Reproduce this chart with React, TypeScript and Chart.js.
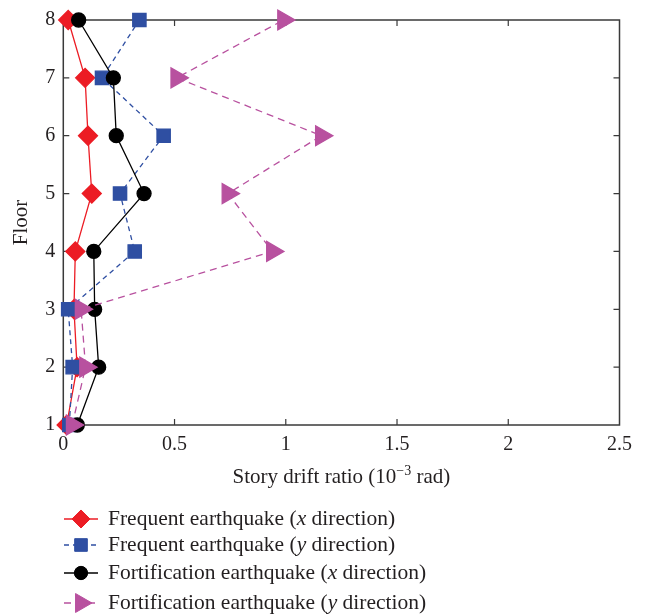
import React, { useEffect, useRef } from "react";
import { Chart, registerables } from "chart.js";
import { drawPoint } from "chart.js/helpers";

Chart.register(...registerables);

const floors = [1, 2, 3, 4, 5, 6, 7, 8];
const frequentX = [0.015, 0.062, 0.048, 0.054, 0.128, 0.111, 0.098, 0.022];
const frequentY = [0.027, 0.042, 0.022, 0.321, 0.255, 0.451, 0.174, 0.342];
const fortificationX = [0.063, 0.159, 0.141, 0.137, 0.363, 0.238, 0.225, 0.069];
const fortificationY = [0.04, 0.1, 0.08, 0.94, 0.74, 1.16, 0.51, 0.99];

const xTickValues = [0, 0.5, 1, 1.5, 2, 2.5];
const yTickValues = [1, 2, 3, 4, 5, 6, 7, 8];

const seriesNames = [
  ["Frequent earthquake (", "x", " direction)"],
  ["Frequent earthquake (", "y", " direction)"],
  ["Fortification earthquake (", "x", " direction)"],
  ["Fortification earthquake (", "y", " direction)"],
];

const FONT = "'Liberation Serif', 'DejaVu Serif', serif";
const TEXT_COLOR = "#231f20";
const FRAME_COLOR = "#3a3a3a";
const TEXT_SIZE = 21;
const LEGEND_SIZE = 21.5;
const TICK_SIZE = 20;

const toPoints = (vals: number[]) => vals.map((v, i) => ({ x: v, y: floors[i] }));

const framePlugin = {
  id: "frame",
  beforeDatasetsDraw(chart: any) {
    const { ctx, chartArea } = chart;
    const { left, right, top, bottom } = chartArea;
    const xs = chart.scales.x;
    const ys = chart.scales.y;
    ctx.save();
    ctx.strokeStyle = FRAME_COLOR;
    ctx.lineWidth = 1.5;
    ctx.strokeRect(left, top, right - left, bottom - top);
    ctx.lineWidth = 1.2;
    const tl = 6;
    ctx.beginPath();
    xTickValues.slice(1, -1).forEach((v) => {
      const px = xs.getPixelForValue(v);
      ctx.moveTo(px, bottom);
      ctx.lineTo(px, bottom - tl);
      ctx.moveTo(px, top);
      ctx.lineTo(px, top + tl);
    });
    yTickValues.slice(1, -1).forEach((v) => {
      const py = ys.getPixelForValue(v);
      ctx.moveTo(left, py);
      ctx.lineTo(left + tl, py);
      ctx.moveTo(right, py);
      ctx.lineTo(right - tl, py);
    });
    ctx.stroke();
    ctx.restore();
  },
  afterDraw(chart: any) {
    const { ctx, chartArea } = chart;
    ctx.save();
    ctx.fillStyle = TEXT_COLOR;
    const size = TEXT_SIZE;
    const parts: [string, string, number][] = [
      ["Story drift ratio (10", `${size}px ${FONT}`, 0],
      ["\u22123", `${Math.round(size * 0.68)}px ${FONT}`, -8],
      [" rad)", `${size}px ${FONT}`, 0],
    ];
    let total = 0;
    parts.forEach(([t, f]) => {
      ctx.font = f;
      total += ctx.measureText(t).width;
    });
    let x = (chartArea.left + chartArea.right) / 2 - total / 2;
    const ty = 483;
    ctx.textBaseline = "alphabetic";
    ctx.textAlign = "left";
    parts.forEach(([t, f, dy]) => {
      ctx.font = f;
      ctx.fillText(t, x, ty + dy);
      x += ctx.measureText(t).width;
    });
    ctx.save();
    ctx.translate(27, (chartArea.top + chartArea.bottom) / 2);
    ctx.rotate(-Math.PI / 2);
    ctx.font = `${size}px ${FONT}`;
    ctx.textAlign = "center";
    ctx.textBaseline = "alphabetic";
    ctx.fillText("Floor", 0, 0);
    ctx.restore();

    const rowY = [519, 545, 573, 603];
    chart.data.datasets.forEach((ds: any, i: number) => {
      const y = rowY[i];
      ctx.save();
      ctx.strokeStyle = ds.borderColor;
      ctx.lineWidth = ds.borderWidth;
      ctx.setLineDash(ds.borderDash || []);
      ctx.beginPath();
      ctx.moveTo(64, y);
      ctx.lineTo(98, y);
      ctx.stroke();
      ctx.setLineDash([]);
      ctx.fillStyle = ds.pointBackgroundColor;
      ctx.strokeStyle = ds.pointBorderColor;
      ctx.lineWidth = 1;
      drawPoint(ctx, { pointStyle: ds.pointStyle, rotation: ds.pointRotation || 0, radius: ds.pointRadius * 0.95, borderWidth: 1 }, 81, y);
      ctx.restore();
      let tx = 108;
      const [a, b, c] = seriesNames[i];
      ctx.fillStyle = TEXT_COLOR;
      ctx.textBaseline = "middle";
      ctx.font = `${LEGEND_SIZE}px ${FONT}`;
      ctx.fillText(a, tx, y);
      tx += ctx.measureText(a).width;
      ctx.font = `italic ${LEGEND_SIZE}px ${FONT}`;
      ctx.fillText(b, tx, y);
      tx += ctx.measureText(b).width;
      ctx.font = `${LEGEND_SIZE}px ${FONT}`;
      ctx.fillText(c, tx, y);
    });
    ctx.restore();
  },
};

export default function App() {
  const ref = useRef<HTMLCanvasElement | null>(null);
  useEffect(() => {
    document.body.style.margin = "0";
    if (!ref.current) return;
    const red = "#ec1c24";
    const blue = "#2f4fa2";
    const black = "#000000";
    const magenta = "#b8519f";
    const chart = new Chart(ref.current, {
      type: "line",
      data: {
        datasets: [
          {
            label: "Frequent earthquake (x direction)",
            data: toPoints(frequentX),
            borderColor: red,
            backgroundColor: red,
            pointBackgroundColor: red,
            pointBorderColor: red,
            borderWidth: 1.3,
            pointStyle: "rectRot",
            pointRadius: 9.5,
            order: 4,
            clip: false,
          },
          {
            label: "Frequent earthquake (y direction)",
            data: toPoints(frequentY),
            borderColor: blue,
            backgroundColor: blue,
            pointBackgroundColor: blue,
            pointBorderColor: blue,
            borderWidth: 1.3,
            borderDash: [5, 4],
            pointStyle: "rect",
            pointRadius: 9.4,
            order: 3,
            clip: false,
          },
          {
            label: "Fortification earthquake (x direction)",
            data: toPoints(fortificationX),
            borderColor: black,
            backgroundColor: black,
            pointBackgroundColor: black,
            pointBorderColor: black,
            borderWidth: 1.3,
            pointStyle: "circle",
            pointRadius: 7,
            order: 2,
            clip: false,
          },
          {
            label: "Fortification earthquake (y direction)",
            data: toPoints(fortificationY),
            borderColor: magenta,
            backgroundColor: magenta,
            pointBackgroundColor: magenta,
            pointBorderColor: magenta,
            borderWidth: 1.3,
            borderDash: [7, 5],
            pointStyle: "triangle",
            pointRotation: 90,
            pointRadius: 11.5,
            order: 1,
            clip: false,
          },
        ] as any,
      },
      options: {
        animation: false,
        responsive: false,
        events: [],
        layout: { padding: { top: 19, right: 27.5, left: 0, bottom: 0 } },
        plugins: { legend: { display: false }, tooltip: { enabled: false } },
        elements: { line: { tension: 0 } },
        scales: {
          x: {
            type: "linear",
            min: 0,
            max: 2.5,
            grid: { display: false, drawTicks: false },
            border: { display: false },
            afterBuildTicks: (s: any) => {
              s.ticks = xTickValues.map((v) => ({ value: v }));
            },
            afterFit: (s: any) => {
              s.height = 190;
            },
            ticks: {
              padding: 8,
              color: TEXT_COLOR,
              font: { family: FONT, size: TICK_SIZE },
              maxRotation: 0,
              callback: (v: any) => String(Number(v)),
            },
          },
          y: {
            type: "linear",
            min: 1,
            max: 8,
            grid: { display: false, drawTicks: false },
            border: { display: false },
            afterBuildTicks: (s: any) => {
              s.ticks = yTickValues.map((v) => ({ value: v }));
            },
            afterFit: (s: any) => {
              s.width = 63.3;
            },
            ticks: {
              padding: 8,
              color: TEXT_COLOR,
              font: { family: FONT, size: TICK_SIZE },
              callback: (v: any) => String(Number(v)),
            },
          },
        },
      },
      plugins: [framePlugin],
    });
    return () => chart.destroy();
  }, []);
  return (
    <div style={{ width: 647, height: 615 }}>
      <canvas ref={ref} width={647} height={615} style={{ width: 647, height: 615, display: "block" }} />
    </div>
  );
}
